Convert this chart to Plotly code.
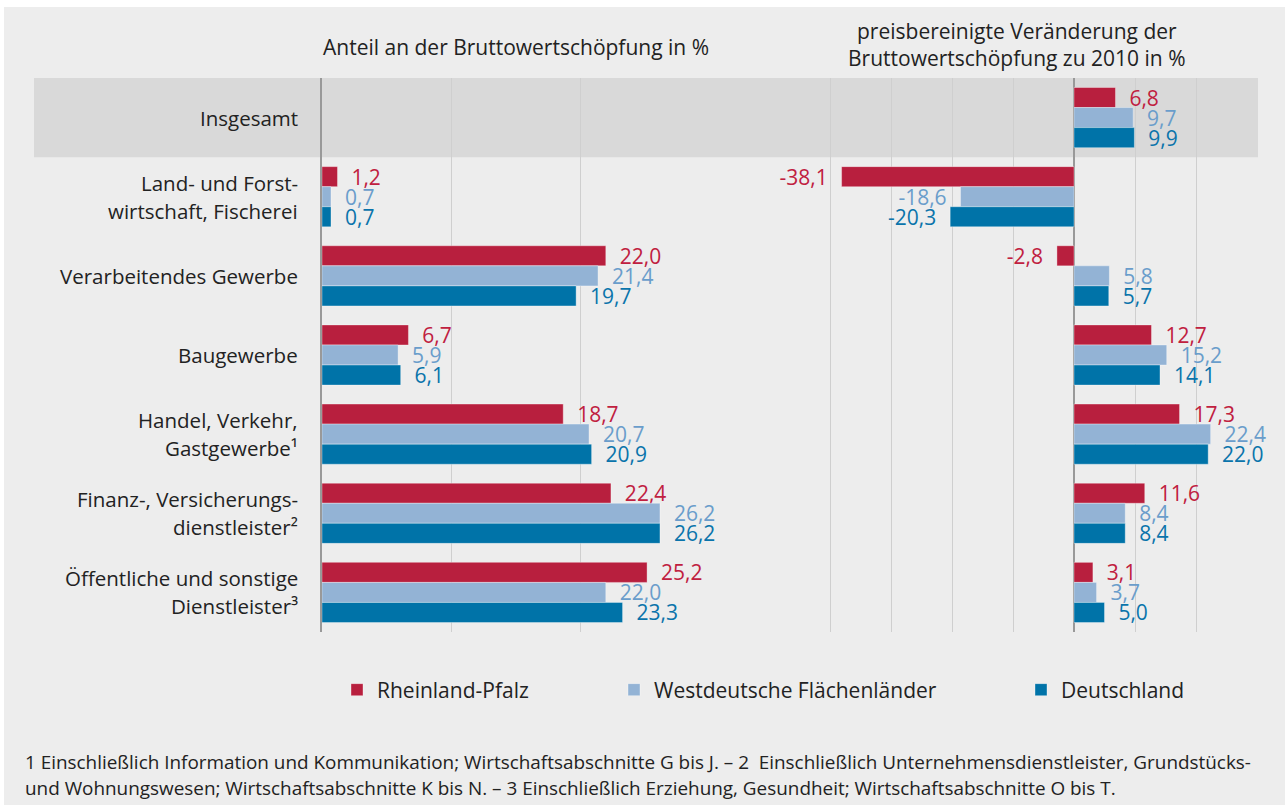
import plotly.graph_objects as go

categories = ["Insgesamt", "Land- und Forst-\nwirtschaft, Fischerei", "Verarbeitendes Gewerbe",
              "Baugewerbe", "Handel, Verkehr,\nGastgewerbe¹", "Finanz-, Versicherungs-\ndienstleister²",
              "Öffentliche und sonstige\nDienstleister³"]
series = ["Rheinland-Pfalz", "Westdeutsche Flächenländer", "Deutschland"]

share_rp = [None, 1.2, 22.0, 6.7, 18.7, 22.4, 25.2]
share_west = [None, 0.7, 21.4, 5.9, 20.7, 26.2, 22.0]
share_de = [None, 0.7, 19.7, 6.1, 20.9, 26.2, 23.3]

change_rp = [6.8, -38.1, -2.8, 12.7, 17.3, 11.6, 3.1]
change_west = [9.7, -18.6, 5.8, 15.2, 22.4, 8.4, 3.7]
change_de = [9.9, -20.3, 5.7, 14.1, 22.0, 8.4, 5.0]

bar_colors = ["#b81f3e", "#93b3d5", "#0073a8"]
label_colors = ["#c0203f", "#6a9dcb", "#0a74ab"]

W, H = 1285, 807
FONT = "Open Sans"
FS_VAL = 21
FS_CAT = 20.5
FS_HEAD = 21
FS_LEG = 21
FS_FOOT = 18.9
TXT = "#222222"


def px_x(p):
    return p / W


def px_y(p):
    return (H - p) / H


def lab(v):
    if v is None:
        return ""
    s = f"{v:.1f}".replace(".", ",")
    return ("\u00a0\u00a0" + s) if v >= 0 else (s + "\u00a0\u00a0")


fig = go.Figure()
ykeys = list(range(len(categories)))
left_vals = [share_rp, share_west, share_de]
right_vals = [change_rp, change_west, change_de]
legend_names = ["legend", "legend2", "legend3"]
for i, name in enumerate(series):
    fig.add_trace(go.Bar(
        y=ykeys, x=left_vals[i], orientation="h", name=name,
        marker=dict(color=bar_colors[i], line=dict(color="rgba(255,255,255,0.35)", width=1)),
        text=[lab(v) for v in left_vals[i]], textposition="outside", constraintext="none",
        cliponaxis=False,
        textfont=dict(color=label_colors[i], size=FS_VAL, family=FONT),
        xaxis="x", yaxis="y", showlegend=True, legend=legend_names[i], hoverinfo="skip"))
for i, name in enumerate(series):
    fig.add_trace(go.Bar(
        y=ykeys, x=right_vals[i], orientation="h", name=name,
        marker=dict(color=bar_colors[i], line=dict(color="rgba(255,255,255,0.35)", width=1)),
        text=[lab(v) for v in right_vals[i]], textposition="outside", constraintext="none",
        cliponaxis=False,
        textfont=dict(color=label_colors[i], size=FS_VAL, family=FONT),
        xaxis="x2", yaxis="y", showlegend=False, hoverinfo="skip"))

shapes = [
    dict(type="rect", xref="paper", yref="paper", x0=px_x(4), x1=1, y0=px_y(805), y1=px_y(7),
         fillcolor="#ededed", line=dict(width=0), layer="below"),
    dict(type="rect", xref="paper", yref="y", x0=px_x(34), x1=px_x(1258), y0=-0.5, y1=0.5,
         fillcolor="#d9d9d9", line=dict(width=0), layer="below"),
]

annotations = []
for k, cat in enumerate(categories):
    lines = cat.split("\n")
    n = len(lines)
    for j, line in enumerate(lines):
        shift = ((n - 1) / 2 - j) * 28
        annotations.append(dict(text=line, xref="paper", yref="y", x=px_x(300), y=k,
                                xanchor="right", yanchor="middle", yshift=shift, showarrow=False,
                                font=dict(size=FS_CAT, family=FONT, color=TXT)))

annotations.append(dict(text="Anteil an der Bruttowertschöpfung in %", xref="paper", yref="paper",
                        x=px_x(516), y=px_y(47), xanchor="center", yanchor="middle", showarrow=False,
                        font=dict(size=FS_HEAD, family=FONT, color=TXT)))
annotations.append(dict(text="preisbereinigte Veränderung der", xref="paper", yref="paper",
                        x=px_x(1017), y=px_y(31), xanchor="center", yanchor="middle", showarrow=False,
                        font=dict(size=FS_HEAD, family=FONT, color=TXT)))
annotations.append(dict(text="Bruttowertschöpfung zu 2010 in %", xref="paper", yref="paper",
                        x=px_x(1017), y=px_y(58), xanchor="center", yanchor="middle", showarrow=False,
                        font=dict(size=FS_HEAD, family=FONT, color=TXT)))

foot1 = ("1 Einschließlich Information und Kommunikation; Wirtschaftsabschnitte G bis J. – 2  "
         "Einschließlich Unternehmensdienstleister, Grundstücks-")
foot2 = ("und Wohnungswesen; Wirtschaftsabschnitte K bis N. – 3 Einschließlich Erziehung, "
         "Gesundheit; Wirtschaftsabschnitte O bis T.")
for txt, yy in [(foot1, 762), (foot2, 788)]:
    annotations.append(dict(text=txt, xref="paper", yref="paper", x=px_x(23), y=px_y(yy),
                            xanchor="left", yanchor="middle", showarrow=False,
                            font=dict(size=FS_FOOT, family=FONT, color=TXT)))

legend_x = [355, 632, 1039]
legend_common = dict(orientation="h", xanchor="left", yanchor="middle", y=px_y(690),
                     bgcolor="rgba(0,0,0,0)", borderwidth=0,
                     font=dict(size=FS_LEG, family=FONT, color=TXT))
fig.update_layout(
    width=W, height=H,
    margin=dict(l=0, r=0, t=0, b=0, pad=0),
    paper_bgcolor="white", plot_bgcolor="rgba(0,0,0,0)",
    font=dict(family=FONT, size=FS_CAT, color=TXT),
    barmode="group", bargap=0.24, bargroupgap=0,
    xaxis=dict(domain=[px_x(322), px_x(709)], range=[0, 30], dtick=10, tick0=0,
               showgrid=True, gridcolor="#cfcfcf", gridwidth=1, zeroline=False,
               showticklabels=False, ticks="", anchor="y", fixedrange=True),
    xaxis2=dict(domain=[px_x(769), px_x(1257)], range=[-50, 30], dtick=10, tick0=0,
                showgrid=True, gridcolor="#cfcfcf", gridwidth=1, zeroline=True,
                zerolinecolor="#999999", zerolinewidth=2,
                showticklabels=False, ticks="", anchor="y", fixedrange=True),
    yaxis=dict(domain=[px_y(632), px_y(78)], range=[len(categories) - 0.5, -0.5],
               showgrid=False, zeroline=False, showticklabels=False, ticks="",
               showline=True, linecolor="#999999", linewidth=2, anchor="x", fixedrange=True),
    shapes=shapes, annotations=annotations,
    legend=dict(x=px_x(legend_x[0] - 18), **legend_common),
    legend2=dict(x=px_x(legend_x[1] - 18), **legend_common),
    legend3=dict(x=px_x(legend_x[2] - 18), **legend_common),
)

fig.write_html("out.html", config={"displayModeBar": False},
               post_script="document.body.style.margin='0';")
